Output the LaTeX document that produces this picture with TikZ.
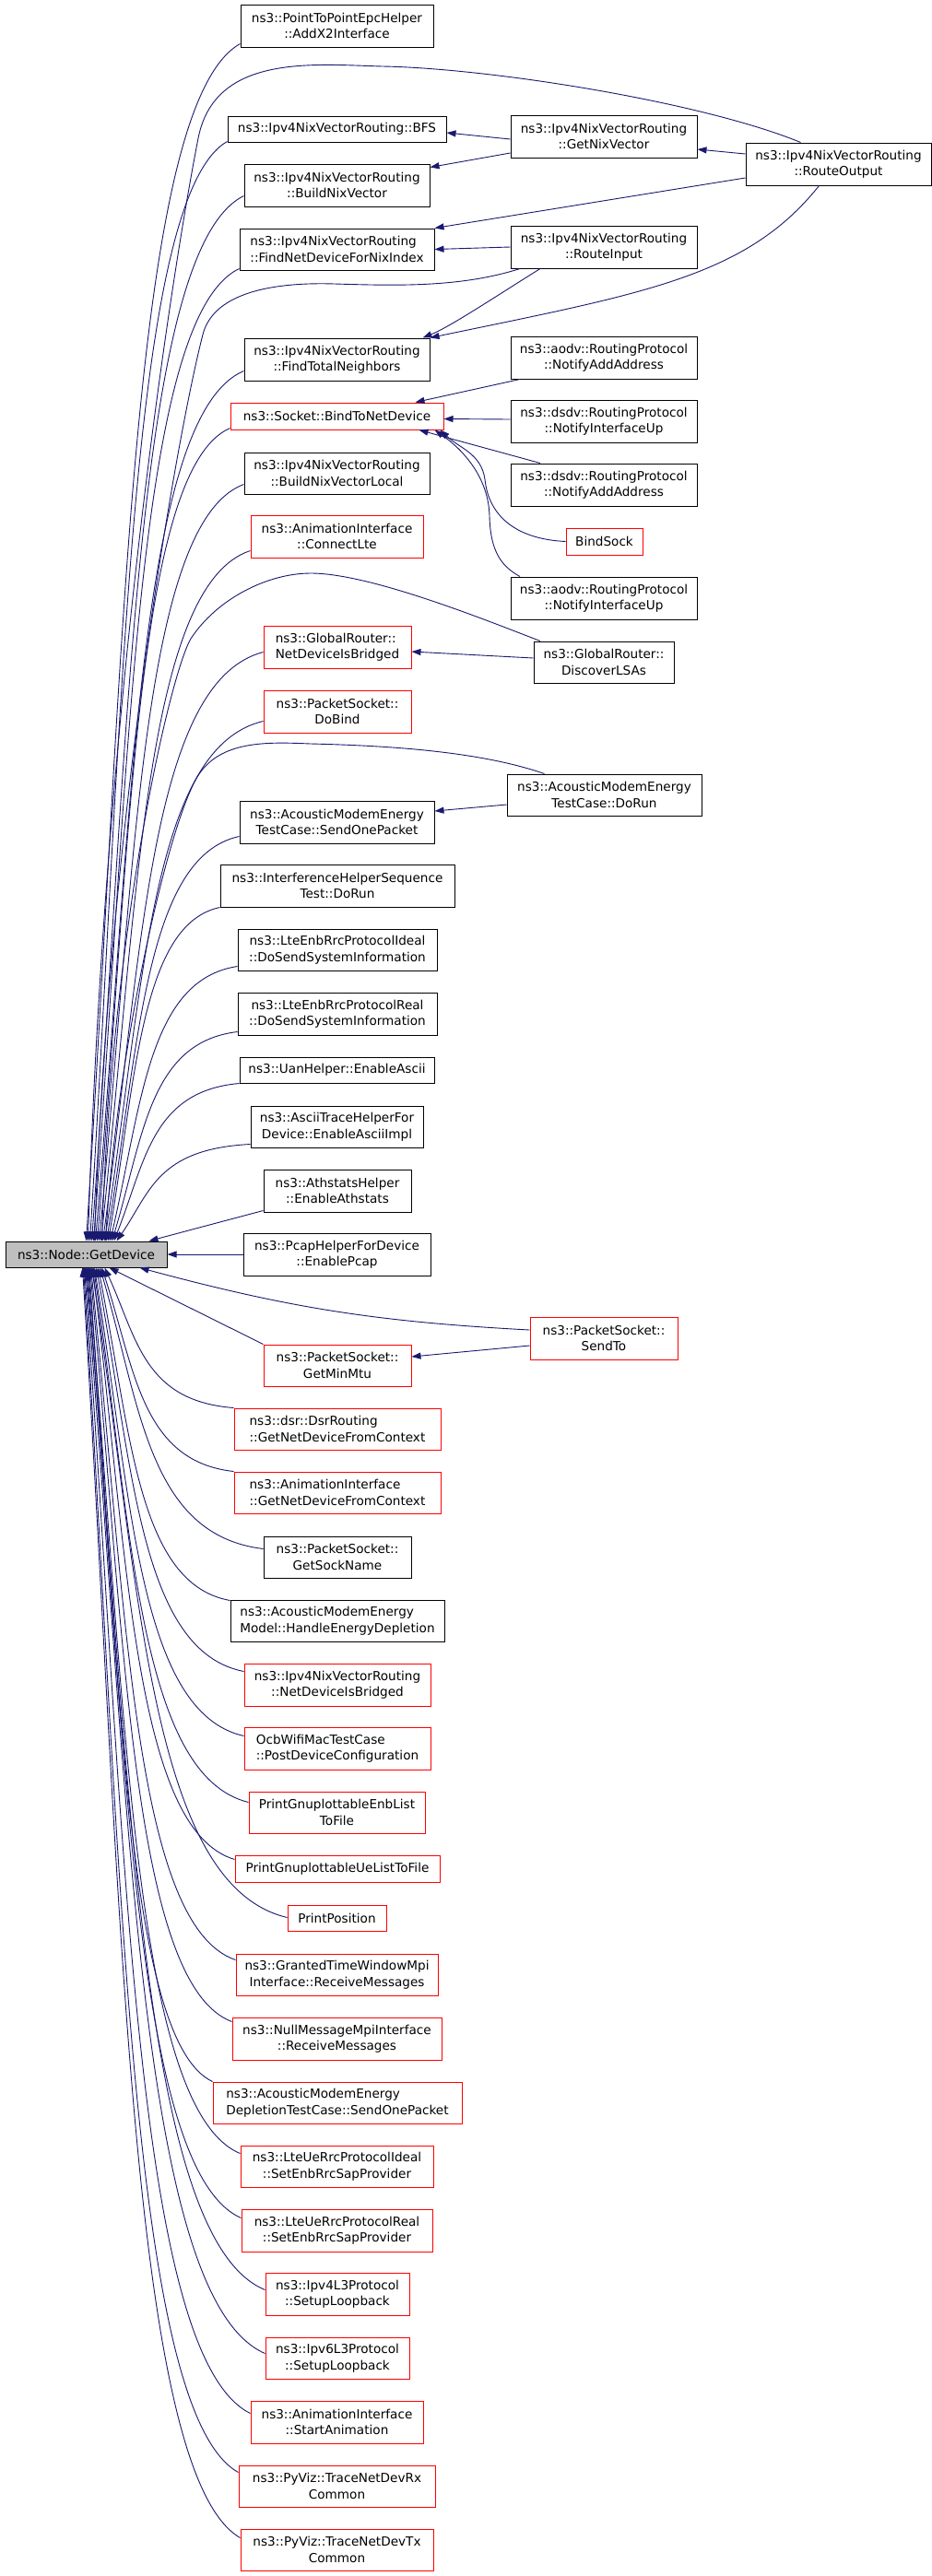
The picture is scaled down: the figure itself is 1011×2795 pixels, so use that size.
\documentclass[tikz,border=0pt]{standalone}
\usepackage{fontspec}
\setmainfont{DejaVu Sans}
\usetikzlibrary{arrows.meta,calc}
\definecolor{mblue}{RGB}{25,25,112}
\definecolor{gdgray}{RGB}{191,191,191}
\newcommand\bx[7]{\node[#2,minimum width=#5pt,minimum height=#6pt] (#1) at (#3,#4) {#7};}
\newcommand\fanup[3]{\draw[edge] let \p1=([xshift=#2pt]gd.north), \p2=([yshift=#3pt]#1.south west) in (\p1) .. controls ({\x1+0.25*(\x2-\x1)},{\y1+0.5*(\y2-\y1)}) and ({\x1+0.3*(\x2-\x1)},{\y2-0.05*(\y2-\y1)}) .. (\p2);}
\newcommand\fandn[3]{\draw[edge] let \p1=([xshift=#2pt]gd.south), \p2=([yshift=-#3pt]#1.north west) in (\p1) .. controls ({\x1+0.25*(\x2-\x1)},{\y1+0.5*(\y2-\y1)}) and ({\x1+0.3*(\x2-\x1)},{\y2-0.05*(\y2-\y1)}) .. (\p2);}
\begin{document}
\begin{tikzpicture}[x=1pt,y=-1pt,
  box/.style={draw=black,line width=1pt,fill=white,inner sep=0pt,font=\fontsize{13.6}{17.5}\selectfont,align=center},
  rbox/.style={box,draw=red},
  lft/.style={align=left},
  edge/.style={draw=mblue,line width=0.9pt,arrows={Triangle[length=10pt,width=7pt]-}}]
\fill[white] (0,0) rectangle (1011,2795);
\useasboundingbox (0,0) rectangle (1011,2795);
% nodes
\bx{addx2}{box}{365.5}{28}{209}{46}{ns3::PointToPointEpcHelper\\::AddX2Interface}
\bx{bfs}{box}{365.5}{140}{237}{28}{ns3::Ipv4NixVectorRouting::BFS}
\bx{getnix}{box}{655}{148}{202}{46}{ns3::Ipv4NixVectorRouting\\::GetNixVector}
\bx{buildnix}{box}{365.5}{201}{201}{46}{ns3::Ipv4NixVectorRouting\\::BuildNixVector}
\bx{routeout}{box}{909.5}{178}{201}{46}{ns3::Ipv4NixVectorRouting\\::RouteOutput}
\bx{findnet}{box,lft}{365.5}{270.5}{211}{45}{ns3::Ipv4NixVectorRouting\\::FindNetDeviceForNixIndex}
\bx{routein}{box}{655}{268}{202}{46}{ns3::Ipv4NixVectorRouting\\::RouteInput}
\bx{findtot}{box}{365.5}{390}{201}{46}{ns3::Ipv4NixVectorRouting\\::FindTotalNeighbors}
\bx{aodvadd}{box}{655}{388}{202}{46}{ns3::aodv::RoutingProtocol\\::NotifyAddAddress}
\bx{bind}{rbox}{365.5}{451.5}{231}{29}{ns3::Socket::BindToNetDevice}
\bx{dsdvup}{box}{655}{457}{202}{46}{ns3::dsdv::RoutingProtocol\\::NotifyInterfaceUp}
\bx{buildloc}{box}{365.5}{513.5}{201}{45}{ns3::Ipv4NixVectorRouting\\::BuildNixVectorLocal}
\bx{dsdvadd}{box}{655}{526}{202}{46}{ns3::dsdv::RoutingProtocol\\::NotifyAddAddress}
\bx{connlte}{rbox}{365.5}{582}{187}{46}{ns3::AnimationInterface\\::ConnectLte}
\bx{bindsock}{rbox}{655.5}{587.5}{83}{29}{BindSock}
\bx{aodvup}{box}{655}{649}{202}{46}{ns3::aodv::RoutingProtocol\\::NotifyInterfaceUp}
\bx{grbridged}{rbox,lft}{366}{702}{160}{46}{ns3::GlobalRouter::\\NetDeviceIsBridged}
\bx{discover}{box}{655}{718.5}{152}{45}{ns3::GlobalRouter::\\DiscoverLSAs}
\bx{dobind}{rbox}{366}{772}{160}{46}{ns3::PacketSocket::\\DoBind}
\bx{dorun}{box}{655.5}{862.5}{211}{45}{ns3::AcousticModemEnergy\\TestCase::DoRun}
\bx{sendone}{box}{365.5}{892}{211}{46}{ns3::AcousticModemEnergy\\TestCase::SendOnePacket}
\bx{interf}{box}{366}{961}{254}{46}{ns3::InterferenceHelperSequence\\Test::DoRun}
\bx{lteenbi}{box}{366}{1030.5}{216}{45}{ns3::LteEnbRrcProtocolIdeal\\::DoSendSystemInformation}
\bx{lteenbr}{box}{366}{1100}{216}{46}{ns3::LteEnbRrcProtocolReal\\::DoSendSystemInformation}
\bx{uan}{box}{365.5}{1161}{211}{28}{ns3::UanHelper::EnableAscii}
\bx{ascii}{box}{365.5}{1222.5}{187}{45}{ns3::AsciiTraceHelperFor\\Device::EnableAsciiImpl}
\bx{athstats}{box}{366}{1292}{160}{46}{ns3::AthstatsHelper\\::EnableAthstats}
\bx{gd}{box,fill=gdgray}{93.5}{1361}{175}{28}{ns3::Node::GetDevice}
\bx{pcap}{box}{365.5}{1361}{203}{46}{ns3::PcapHelperForDevice\\::EnablePcap}
\bx{sendto}{rbox}{655}{1452}{160}{46}{ns3::PacketSocket::\\SendTo}
\bx{getminmtu}{rbox}{366}{1481.5}{160}{45}{ns3::PacketSocket::\\GetMinMtu}
\bx{dsr}{rbox,lft}{366}{1550.5}{224}{45}{ns3::dsr::DsrRouting\\::GetNetDeviceFromContext}
\bx{animgnd}{rbox,lft}{366}{1619.5}{224}{45}{ns3::AnimationInterface\\::GetNetDeviceFromContext}
\bx{sockname}{box}{366}{1689.5}{160}{45}{ns3::PacketSocket::\\GetSockName}
\bx{handle}{box,lft}{366}{1758.5}{232}{45}{ns3::AcousticModemEnergy\\Model::HandleEnergyDepletion}
\bx{nixbridged}{rbox}{366}{1828}{202}{46}{ns3::Ipv4NixVectorRouting\\::NetDeviceIsBridged}
\bx{ocb}{rbox,lft}{366}{1897}{202}{46}{OcbWifiMacTestCase\\::PostDeviceConfiguration}
\bx{printenb}{rbox}{365.5}{1966.5}{191}{45}{PrintGnuplottableEnbList\\ToFile}
\bx{printue}{rbox}{366}{2027.5}{222}{29}{PrintGnuplottableUeListToFile}
\bx{printpos}{rbox}{365.5}{2081}{107}{28}{PrintPosition}
\bx{granted}{rbox}{365.5}{2142.5}{219}{45}{ns3::GrantedTimeWindowMpi\\Interface::ReceiveMessages}
\bx{nullmsg}{rbox}{365.5}{2212}{227}{46}{ns3::NullMessageMpiInterface\\::ReceiveMessages}
\bx{acdep}{rbox,lft}{366}{2281.5}{270}{45}{ns3::AcousticModemEnergy\\DepletionTestCase::SendOnePacket}
\bx{lteuei}{rbox}{365.5}{2350.5}{209}{45}{ns3::LteUeRrcProtocolIdeal\\::SetEnbRrcSapProvider}
\bx{lteuer}{rbox}{365.5}{2420}{207}{46}{ns3::LteUeRrcProtocolReal\\::SetEnbRrcSapProvider}
\bx{ipv4l3}{rbox}{366}{2489}{156}{46}{ns3::Ipv4L3Protocol\\::SetupLoopback}
\bx{ipv6l3}{rbox}{366}{2558.5}{156}{45}{ns3::Ipv6L3Protocol\\::SetupLoopback}
\bx{startanim}{rbox}{365.5}{2628}{187}{46}{ns3::AnimationInterface\\::StartAnimation}
\bx{tracerx}{rbox}{365.5}{2697.5}{213}{45}{ns3::PyViz::TraceNetDevRx\\Common}
\bx{tracetx}{rbox}{365.5}{2766.5}{209}{45}{ns3::PyViz::TraceNetDevTx\\Common}
% fan upward from GetDevice
\fanup{addx2}{0}{4}
\fanup{bfs}{4}{1}
\fanup{buildnix}{6}{12}
\fanup{findnet}{8}{2}
\fanup{findtot}{10}{11}
\fanup{bind}{12}{2}
\fanup{buildloc}{14}{11}
\fanup{connlte}{16}{8}
\fanup{grbridged}{18}{18}
\fanup{dobind}{20}{13}
\fanup{sendone}{22}{8}
\fanup{interf}{24}{0}
\fanup{lteenbi}{26}{5}
\fanup{lteenbr}{28}{4}
\fanup{uan}{30}{0}
\fanup{ascii}{33}{4}
% fan downward from GetDevice
\fandn{dsr}{20}{0}
\fandn{animgnd}{17}{0}
\fandn{sockname}{15}{14}
\fandn{handle}{13}{1}
\fandn{nixbridged}{11}{9}
\fandn{ocb}{9}{10}
\fandn{printenb}{8}{12}
\fandn{printue}{7}{5}
\fandn{printpos}{6}{14}
\fandn{granted}{5}{7}
\fandn{nullmsg}{4}{5}
\fandn{acdep}{3}{0}
\fandn{lteuei}{2}{9}
\fandn{lteuer}{1}{10}
\fandn{ipv4l3}{0}{19}
\fandn{ipv6l3}{-1}{18}
\fandn{startanim}{-2}{14}
\fandn{tracerx}{-3}{8}
\fandn{tracetx}{-4}{10}
% other direct callers of GetDevice
\draw[edge] ([xshift=25pt]gd.south) -- (getminmtu.north west);
\draw[edge] ([xshift=58pt]gd.south) to[bend right=6] ([yshift=9pt]sendto.west);
\draw[edge] ([xshift=68pt]gd.north) -- ([yshift=2pt]athstats.south west);
\draw[edge] (gd.east) -- (pcap.west);
\draw[edge] ([xshift=2pt]gd.north) .. controls (112,800) and (180,330) .. (215,150) .. controls (233,58) and (340,70) .. (415,72) .. controls (530,74) and (760,110) .. ([xshift=-41pt]routeout.north);
\draw[edge] ([xshift=9pt]gd.north) .. controls (118,900) and (190,480) .. (220,363) .. controls (232,316) and (300,306) .. (363,308) .. controls (430,310) and (500,312) .. ([xshift=-91pt]routein.south);
\draw[edge] ([xshift=17pt]gd.north) .. controls (122,1000) and (185,730) .. (207,693) .. controls (235,650) and (290,622) .. (337,622) .. controls (400,622) and (520,670) .. ([xshift=-69pt]discover.north);
\draw[edge] ([xshift=21pt]gd.north) .. controls (126,1150) and (180,900) .. (214,843) .. controls (238,803) and (290,805) .. (337,807) .. controls (420,809) and (520,815) .. ([xshift=-65pt]dorun.north);
% right-hand edges
\draw[edge] ([yshift=-4pt]bfs.east) -- ([yshift=-3pt]getnix.west);
\draw[edge] ([yshift=-4pt]buildnix.north east) -- ([yshift=-18pt]getnix.west);
\draw[edge] ([yshift=-14pt]getnix.east) -- ([yshift=11pt]routeout.west);
\draw[edge] (findnet.north east) -- ([yshift=-15pt]routeout.west);
\draw[edge] (findnet.east) -- (routein.west);
\draw[edge] ([xshift=-8pt]findtot.north east) .. controls +(30,-12) and +(-45,28) .. ([xshift=-69pt]routein.south);
\draw[edge] (findtot.north east) .. controls (700,318) and (810,300) .. ([xshift=-21pt]routeout.south);
\draw[edge] ([xshift=-31pt]bind.north east) -- ([xshift=-91pt]aodvadd.south);
\draw[edge] ([yshift=-3pt]bind.east) -- ([yshift=2pt]dsdvup.west);
\draw[edge] ([xshift=-27pt]bind.south east) -- ([xshift=-69pt]dsdvadd.north);
\draw[edge] ([xshift=-4pt]bind.south east) .. controls (498,486) and (522,492) .. (526,520) .. controls (530,560) and (560,585) .. (bindsock.west);
\draw[edge] ([xshift=-10pt]bind.south east) .. controls (505,490) and (530,520) .. (531,560) .. controls (532,600) and (545,615) .. ([xshift=-91pt]aodvup.north);
\draw[edge] ([yshift=-5pt]grbridged.east) -- ([yshift=4.5pt]discover.west);
\draw[edge] ([yshift=12pt]sendone.east) -- ([yshift=-10.5pt]dorun.west);
\draw[edge] ([yshift=9.5pt]getminmtu.east) -- ([yshift=-8pt]sendto.west);
\end{tikzpicture}
\end{document}
